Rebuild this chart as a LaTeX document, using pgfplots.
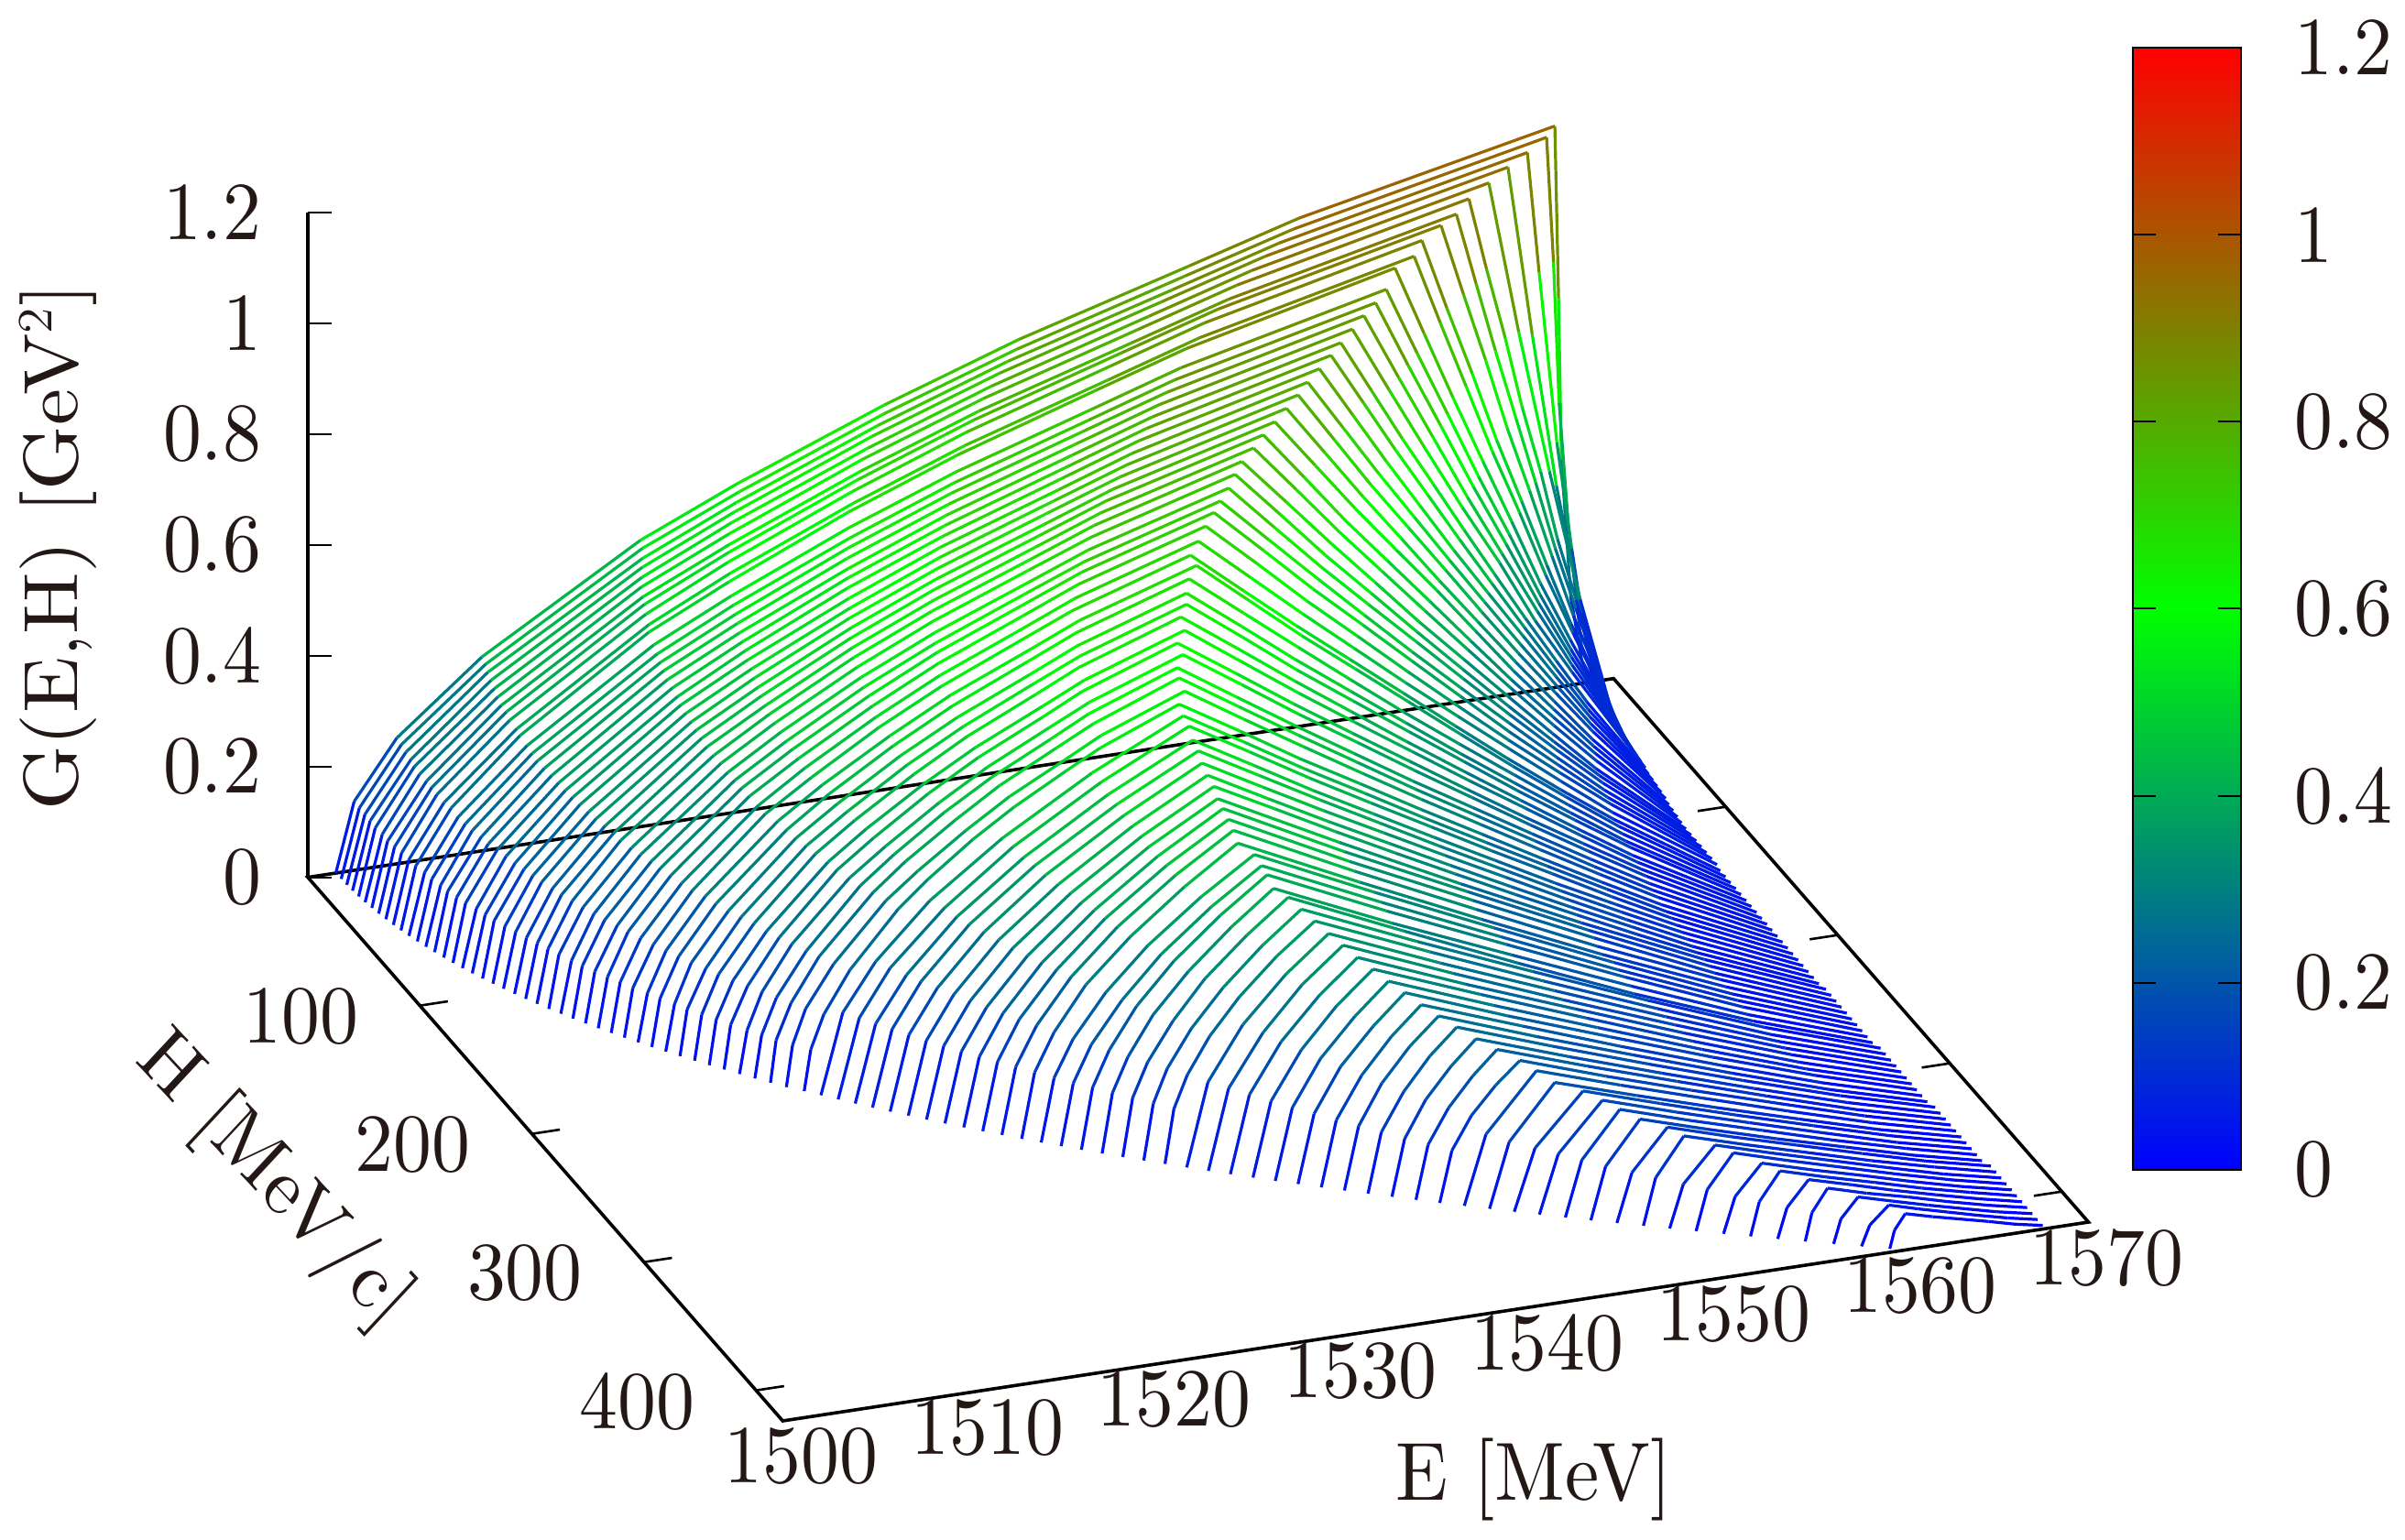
\documentclass[border=0pt]{standalone}
\usepackage{fontspec}
\setmainfont{lmroman10-regular}[Extension=.otf]
\usepackage{pgfplots}
\pgfplotsset{compat=1.18}
\definecolor{tc}{RGB}{35,24,21}
\pgfplotsset{bgr/.style={colormap={bgr}{rgb255(0)=(0,0,255) rgb255(1)=(0,255,0) rgb255(2)=(255,0,0)}},
 every tick label/.append style={xscale=.93}}
\newcommand\Ln[2]{\addplot3[mesh,mesh/rows=1,line width=0.8pt,point meta=z] table[row sep=\\,header=false,x index=0,y expr=#1,z index=1]{#2};}
\begin{document}
\begin{tikzpicture}
\fontsize{22.5}{27}\selectfont
\color{tc}
\path[use as bounding box] (0,0) rectangle (656.25pt,420.25pt);
\begin{axis}[hide axis,bgr,clip=false,
 x={(5.09pt,0.775pt)},y={(0.30575pt,-0.35pt)},z={(0pt,151.25pt)},
 xmin=1500,xmax=1570,ymin=0,ymax=423.8,zmin=0,zmax=1.2,
 point meta min=0,point meta max=1.2,
 at={(84pt,32.5pt)},anchor=south west]
\draw[black,line width=.9pt] (axis cs:1500,0,0)--(axis cs:1570,0,0)--(axis cs:1570,423.8,0)--(axis cs:1500,423.8,0)--cycle;
\pgfplotsinvokeforeach{100,200,300,400}{
 \draw[black,line width=.65pt] (axis cs:1500,#1,0)--(axis cs:1501.5,#1,0);
 \draw[black,line width=.65pt] (axis cs:1570,#1,0)--(axis cs:1568.5,#1,0);
 \node[xscale=.93] at ([xshift=-32.5pt,yshift=-3pt]axis cs:1500,#1,0) {#1};}
\pgfplotsinvokeforeach{1500,1510,1520,1530,1540,1550,1560,1570}{
 \node[xscale=.93] at ([xshift=5pt,yshift=-9.75pt]axis cs:#1,423.8,0) {#1};}
\Ln{0}{1501.5 0\\1502.48 .124\\1504.77 .227\\1509.34 .35\\1517.84 .517\\1523.07 .593\\1530.91 .694\\1538.1 .775\\1547.25 .861\\1553.13 .917\\1566.85 1.013\\1567.05 .7\\1567.2 .41\\1567.7 .16\\1568.3 .04\\1568.9 0\\}
\Ln{4.63}{1501.51 0\\1502.48 .123\\1504.74 .226\\1509.26 .348\\1517.67 .514\\1522.83 .589\\1530.59 .69\\1537.7 .77\\1546.74 .856\\1552.56 .911\\1566.13 1.007\\1566.5 .78\\1566.8 .525\\1567.3 .3\\1568 .08\\1568.85 0\\}
\Ln{9.26}{1501.53 0\\1502.5 .122\\1504.7 .223\\1509.1 .345\\1517.4 .508\\1522.42 .583\\1530 .683\\1536.97 .763\\1545.8 .847\\1551.53 .902\\1564.82 .997\\1565.45 .778\\1566.4 .466\\1567.2 .27\\1568 .09\\1568.8 0\\}
\Ln{13.9}{1501.56 0\\1502.5 .121\\1504.7 .221\\1509 .342\\1517.1 .504\\1522 .578\\1529.4 .677\\1536.25 .756\\1544.9 .84\\1550.49 .894\\1563.5 .988\\1564.8 .68\\1566.1 .4\\1567.45 .163\\1568.75 0\\}
\Ln{18.5}{1501.61 0\\1502.5 .119\\1504.6 .219\\1508.9 .338\\1516.8 .498\\1521.6 .572\\1528.9 .669\\1535.54 .747\\1544 .83\\1549.48 .884\\1562.2 .977\\1563.8 .7\\1565.45 .44\\1567.1 .2\\1568.7 0\\}
\Ln{23.15}{1501.68 0\\1502.6 .118\\1504.6 .216\\1508.8 .334\\1516.5 .493\\1521.21 .565\\1528.3 .662\\1534.82 .739\\1543.1 .821\\1548.42 .874\\1560.85 .966\\1561.8 .834\\1562.8 .705\\1563.7 .576\\1564.7 .454\\1565.6 .328\\1566.6 .213\\1568.5 0\\}
\Ln{27.8}{1501.76 0\\1502.6 .116\\1504.7 .214\\1508.7 .33\\1516.3 .487\\1520.95 .558\\1527.9 .653\\1534.32 .73\\1542.5 .811\\1547.69 .863\\1559.9 .954\\1560.96 .823\\1562 .696\\1563.1 .569\\1564.15 .448\\1565.2 .324\\1566.3 .21\\1568.4 0\\}
\Ln{32.4}{1501.85 0\\1502.7 .116\\1504.7 .213\\1508.7 .329\\1516.1 .485\\1520.64 .556\\1527.5 .651\\1533.74 .727\\1541.7 .808\\1546.84 .86\\1558.8 .95\\1560 .82\\1561.2 .694\\1562.35 .566\\1563.55 .447\\1564.75 .323\\1565.9 .209\\1568.3 0\\}
\Ln{37}{1501.96 0\\1502.8 .115\\1504.7 .211\\1508.6 .325\\1515.9 .479\\1520.29 .55\\1527 .644\\1533.06 .719\\1540.8 .799\\1545.84 .851\\1557.5 .94\\1558.84 .811\\1560.2 .686\\1561.5 .56\\1562.85 .442\\1564.2 .32\\1565.5 .207\\1568.2 0\\}
\Ln{41.7}{1502.08 0\\1502.9 .113\\1504.8 .207\\1508.7 .32\\1515.8 .472\\1520.14 .542\\1526.7 .634\\1532.72 .708\\1540.4 .787\\1545.31 .838\\1556.8 .926\\1558.2 .799\\1559.6 .676\\1561 .552\\1562.45 .435\\1563.85 .315\\1565.3 .204\\1568.1 0\\}
\Ln{46.3}{1502.21 0\\1503 .112\\1504.9 .207\\1508.6 .319\\1515.5 .47\\1519.8 .539\\1526.2 .632\\1532.05 .705\\1539.5 .784\\1544.31 .834\\1555.5 .922\\1557.06 .796\\1558.6 .673\\1560.2 .55\\1561.75 .433\\1563.3 .313\\1564.9 .203\\1568 0\\}
\Ln{50.9}{1502.36 0\\1503.2 .11\\1505 .201\\1508.7 .311\\1515.5 .458\\1519.65 .525\\1525.9 .615\\1531.7 .687\\1539 .763\\1543.75 .813\\1554.75 .898\\1556.4 .775\\1558.05 .656\\1559.7 .535\\1561.35 .422\\1563 .305\\1564.65 .198\\1567.95 0\\}
\Ln{55.6}{1502.53 0\\1503.3 .108\\1505.1 .199\\1508.7 .308\\1515.4 .453\\1519.48 .52\\1525.7 .609\\1531.3 .68\\1538.5 .756\\1543.11 .805\\1553.9 .889\\1555.65 .767\\1557.4 .649\\1559.15 .53\\1560.9 .418\\1562.65 .302\\1564.4 .196\\1567.9 0\\}
\Ln{60.2}{1502.71 0\\1503.5 .107\\1505.2 .197\\1508.7 .305\\1515.3 .449\\1519.31 .515\\1525.3 .603\\1530.87 .674\\1537.9 .749\\1542.44 .797\\1553 .881\\1554.86 .76\\1556.7 .643\\1558.55 .525\\1560.4 .414\\1562.3 .3\\1564.15 .194\\1567.85 0\\}
\Ln{64.8}{1502.9 0\\1503.6 .106\\1505.4 .195\\1508.8 .302\\1515.2 .445\\1519.14 .51\\1525 .597\\1530.45 .667\\1537.3 .741\\1541.77 .789\\1552.1 .872\\1554.06 .753\\1556 .637\\1558 .52\\1560 .41\\1561.9 .296\\1563.9 .192\\1567.8 0\\}
\Ln{69.5}{1503.11 0\\1503.8 .105\\1505.5 .193\\1508.9 .299\\1515.1 .44\\1518.98 .505\\1524.8 .591\\1530.04 .66\\1536.8 .734\\1541.1 .781\\1551.2 .863\\1552.85 .768\\1554.5 .673\\1556.15 .583\\1557.8 .492\\1559.45 .403\\1561.1 .315\\1562.75 .23\\1564.4 .147\\1567.7 0\\}
\Ln{74.1}{1503.33 0\\1504 .104\\1505.7 .192\\1509 .296\\1515.1 .436\\1518.86 .5\\1524.5 .586\\1529.69 .654\\1536.3 .727\\1540.52 .774\\1550.4 .855\\1552.13 .761\\1553.85 .667\\1555.58 .577\\1557.3 .487\\1559.03 .399\\1560.75 .312\\1562.48 .227\\1564.2 .145\\1567.65 0\\}
\Ln{78.7}{1503.56 0\\1504.3 .103\\1505.9 .19\\1509.1 .293\\1515.1 .431\\1518.72 .495\\1524.2 .58\\1529.29 .647\\1535.7 .719\\1539.85 .766\\1549.5 .846\\1551.3 .753\\1553.1 .66\\1554.9 .571\\1556.7 .482\\1558.55 .395\\1560.4 .309\\1562.2 .225\\1564 .144\\1567.6 0\\}
\Ln{83.3}{1503.81 0\\1504.5 .102\\1506.1 .187\\1509.2 .29\\1515 .427\\1518.59 .49\\1524 .573\\1528.89 .64\\1535.2 .711\\1539.19 .757\\1548.6 .837\\1550.5 .745\\1552.4 .653\\1554.3 .565\\1556.2 .477\\1558.1 .391\\1560 .306\\1561.9 .223\\1563.8 .142\\1567.55 0\\}
\Ln{88}{1504.08 0\\1504.7 .101\\1506.3 .186\\1509.3 .287\\1515 .423\\1518.51 .485\\1523.8 .568\\1528.56 .634\\1534.7 .705\\1538.62 .75\\1547.8 .829\\1549.75 .738\\1551.7 .647\\1553.7 .56\\1555.7 .473\\1557.65 .387\\1559.6 .303\\1561.6 .221\\1563.6 .141\\1567.5 0\\}
\Ln{92.6}{1504.36 0\\1505 .1\\1506.5 .184\\1509.5 .284\\1515 .418\\1518.4 .48\\1523.5 .562\\1528.18 .627\\1534.1 .697\\1537.97 .742\\1546.9 .82\\1548.95 .73\\1551 .64\\1553.05 .554\\1555.1 .467\\1557.15 .383\\1559.2 .299\\1561.25 .218\\1563.3 .139\\1567.4 0\\}
\Ln{97.2}{1504.65 0\\1505.3 .099\\1506.7 .182\\1509.6 .281\\1515 .414\\1518.3 .474\\1523.3 .556\\1527.81 .62\\1533.6 .689\\1537.32 .734\\1546 .811\\1548.15 .722\\1550.3 .633\\1552.5 .547\\1554.7 .462\\1556.75 .379\\1558.8 .296\\1560.95 .216\\1563.1 .138\\1567.35 0\\}
\Ln{101.9}{1504.96 0\\1505.6 .098\\1507 .18\\1509.8 .278\\1515 .41\\1518.21 .47\\1523 .55\\1527.44 .614\\1533.1 .683\\1536.67 .727\\1545.1 .803\\1547.3 .715\\1549.5 .626\\1551.75 .542\\1554 .458\\1556.2 .375\\1558.4 .293\\1560.65 .214\\1562.9 .137\\1567.3 0\\}
\Ln{106.5}{1505.28 0\\1505.9 .097\\1507.2 .178\\1510 .275\\1515 .405\\1518.16 .464\\1522.8 .544\\1527.13 .607\\1532.6 .675\\1536.11 .719\\1544.3 .794\\1546.6 .707\\1548.9 .619\\1551.2 .536\\1553.5 .453\\1555.8 .371\\1558.1 .29\\1560.4 .211\\1562.7 .135\\1567.25 0\\}
\Ln{111.1}{1505.61 0\\1506.2 .096\\1507.5 .176\\1510.1 .272\\1515.1 .4\\1518.08 .459\\1522.6 .538\\1526.77 .6\\1532.1 .667\\1535.46 .71\\1543.4 .785\\1545.8 .699\\1548.2 .612\\1550.55 .53\\1552.9 .447\\1555.3 .367\\1557.7 .287\\1560.05 .209\\1562.4 .133\\1567.2 0\\}
\Ln{115.8}{1505.96 0\\1506.5 .095\\1507.8 .174\\1510.4 .268\\1515.2 .396\\1518.1 .454\\1522.5 .532\\1526.56 .594\\1531.7 .66\\1535.02 .702\\1542.75 .776\\1545.18 .691\\1547.6 .605\\1550.05 .524\\1552.5 .442\\1554.95 .362\\1557.4 .283\\1559.85 .206\\1562.3 .132\\1567.2 0\\}
\Ln{120.4}{1506.33 0\\1506.9 .093\\1508.1 .171\\1510.6 .265\\1515.3 .39\\1518.14 .448\\1522.4 .524\\1526.38 .585\\1531.4 .65\\1534.61 .692\\1542.13 .765\\1544.6 .681\\1547.1 .597\\1549.65 .516\\1552.2 .436\\1554.7 .357\\1557.2 .279\\1559.7 .203\\1562.2 .13\\1567.2 0\\}
\Ln{125}{1506.7 0\\1507.2 .092\\1508.4 .169\\1510.9 .262\\1515.4 .386\\1518.15 .442\\1522.3 .518\\1526.14 .578\\1531 .643\\1534.12 .684\\1541.41 .756\\1544 .673\\1546.6 .59\\1549.15 .51\\1551.7 .431\\1554.3 .353\\1556.9 .276\\1559.45 .201\\1562 .129\\1567.2 0\\}
\Ln{129.6}{1507.1 0\\1507.6 .091\\1508.8 .168\\1511.1 .259\\1515.5 .382\\1518.22 .438\\1522.3 .513\\1525.97 .573\\1530.7 .637\\1533.72 .678\\1540.79 .749\\1543.45 .667\\1546.1 .584\\1548.75 .506\\1551.4 .427\\1554 .35\\1556.6 .273\\1559.25 .199\\1561.9 .127\\1567.2 0\\}
\Ln{134.3}{1507.5 0\\1508 .09\\1509.1 .166\\1511.4 .256\\1515.6 .377\\1518.25 .432\\1522.2 .506\\1525.74 .565\\1530.3 .628\\1533.23 .669\\1540.07 .739\\1542.8 .658\\1545.5 .576\\1548.2 .499\\1550.9 .421\\1553.6 .345\\1556.3 .27\\1559.05 .197\\1561.8 .126\\1567.2 0\\}
\Ln{138.9}{1507.92 0\\1508.4 .089\\1509.5 .163\\1511.7 .251\\1515.8 .37\\1518.31 .425\\1522.1 .497\\1525.55 .555\\1530 .617\\1532.79 .657\\1539.4 .726\\1542.2 .646\\1545 .566\\1547.75 .49\\1550.5 .414\\1553.3 .339\\1556.1 .265\\1558.85 .193\\1561.6 .123\\1567.2 0\\}
\Ln{143.5}{1508.35 0\\1508.8 .087\\1509.9 .16\\1512 .247\\1515.9 .365\\1518.37 .418\\1522 .49\\1525.35 .547\\1529.6 .608\\1532.33 .647\\1538.7 .715\\1541.55 .636\\1544.4 .558\\1547.25 .483\\1550.1 .408\\1552.9 .334\\1555.7 .261\\1558.55 .19\\1561.4 .122\\1567.1 0\\}
\Ln{148.2}{1508.8 0\\1509.3 .086\\1510.3 .158\\1512.4 .245\\1516.3 .361\\1518.68 .414\\1522.3 .484\\1525.57 .541\\1529.8 .601\\1532.45 .64\\1538.74 .707\\1541.57 .629\\1544.4 .551\\1547.25 .477\\1550.1 .403\\1552.9 .33\\1555.7 .258\\1558.55 .188\\1561.4 .12\\1567.1 0\\}
\Ln{152.8}{1509.26 0\\1509.7 .085\\1510.7 .156\\1512.7 .241\\1516.5 .355\\1518.77 .408\\1522.2 .477\\1525.39 .533\\1529.4 .592\\1532.02 .631\\1538.07 .697\\1541 .62\\1543.9 .544\\1546.75 .47\\1549.6 .397\\1552.55 .325\\1555.5 .254\\1558.4 .185\\1561.3 .118\\1567.1 0\\}
\Ln{157.4}{1509.73 0\\1510.2 .083\\1511.1 .153\\1513.1 .237\\1516.7 .349\\1518.94 .4\\1522.3 .469\\1525.37 .523\\1529.3 .581\\1531.79 .619\\1537.65 .684\\1540.6 .609\\1543.5 .534\\1546.45 .462\\1549.4 .39\\1552.35 .319\\1555.3 .25\\1558.25 .182\\1561.2 .116\\1567.1 0\\}
\Ln{162}{1510.22 0\\1510.6 .082\\1511.6 .151\\1513.5 .234\\1517 .345\\1519.18 .395\\1522.4 .463\\1525.42 .517\\1529.2 .575\\1531.67 .612\\1537.37 .676\\1540.35 .602\\1543.3 .527\\1546.3 .456\\1549.3 .385\\1552.25 .316\\1555.2 .247\\1558.2 .18\\1561.2 .115\\1567.1 0\\}
\Ln{166.7}{1510.72 0\\1511.1 .081\\1512 .149\\1513.9 .231\\1517.2 .34\\1519.32 .39\\1522.5 .457\\1525.32 .51\\1529 .567\\1531.32 .604\\1536.79 .667\\1539.85 .594\\1542.9 .52\\1545.9 .45\\1548.9 .38\\1551.95 .311\\1555 .243\\1558 .177\\1561 .113\\1567.1 0\\}
\Ln{171.3}{1511.23 0\\1511.6 .08\\1512.5 .146\\1514.3 .226\\1517.6 .334\\1519.64 .383\\1522.7 .448\\1525.5 .5\\1529.1 .556\\1531.36 .592\\1536.71 .654\\1539.75 .582\\1542.8 .51\\1545.85 .441\\1548.9 .373\\1551.95 .305\\1555 .239\\1558 .174\\1561 .111\\1567.1 0\\}
\Ln{175.9}{1511.75 0\\1512.1 .079\\1513 .144\\1514.7 .223\\1517.8 .329\\1519.77 .377\\1522.7 .442\\1525.36 .493\\1528.8 .548\\1530.95 .584\\1536.05 .645\\1539.2 .574\\1542.3 .503\\1545.4 .435\\1548.5 .368\\1551.6 .301\\1554.7 .235\\1557.8 .172\\1560.9 .11\\1567.1 0\\}
\Ln{180.6}{1512.29 0\\1512.7 .077\\1513.5 .142\\1515.1 .22\\1518.2 .324\\1520.13 .371\\1523 .435\\1525.6 .486\\1528.9 .54\\1531.07 .575\\1536.06 .635\\1539.2 .565\\1542.3 .495\\1545.4 .429\\1548.5 .362\\1551.6 .297\\1554.7 .232\\1557.8 .169\\1560.9 .108\\1567.1 0\\}
\Ln{185.2}{1512.84 0\\1513.2 .076\\1514 .14\\1515.6 .216\\1518.5 .319\\1520.31 .366\\1523 .428\\1525.52 .478\\1528.7 .531\\1530.73 .566\\1535.49 .625\\1538.65 .556\\1541.8 .488\\1544.95 .422\\1548.1 .356\\1551.3 .292\\1554.5 .228\\1557.65 .166\\1560.8 .106\\1567.1 0\\}
\Ln{189.8}{1513.4 0\\1513.7 .075\\1514.5 .138\\1516 .214\\1518.9 .315\\1520.63 .362\\1523.3 .423\\1525.67 .473\\1528.7 .525\\1530.71 .559\\1535.31 .618\\1538.5 .55\\1541.7 .482\\1544.85 .417\\1548 .352\\1551.2 .289\\1554.4 .226\\1557.55 .164\\1560.7 .105\\1567.1 0\\}
\Ln{194.5}{1513.97 0\\1514.3 .074\\1515 .136\\1516.5 .209\\1519.3 .309\\1521.02 .354\\1523.6 .414\\1525.93 .463\\1528.9 .514\\1530.84 .548\\1535.32 .605\\1538.5 .538\\1541.7 .472\\1544.85 .408\\1548 .345\\1551.2 .283\\1554.4 .221\\1557.55 .161\\1560.7 .103\\1567.1 0\\}
\Ln{199.1}{1514.65 0\\1515 .073\\1515.7 .133\\1517.1 .206\\1519.7 .303\\1521.28 .348\\1523.7 .408\\1525.91 .455\\1528.7 .506\\1530.53 .538\\1534.75 .595\\1538 .53\\1541.2 .464\\1544.45 .402\\1547.7 .339\\1550.95 .278\\1554.2 .217\\1557.4 .158\\1560.6 .101\\1567.1 0\\}
\Ln{203.7}{1515.27 0\\1516.44 .143\\1518.2 .226\\1521.1 .321\\1525 .414\\1529.8 .507\\1534.7 .585\\1537.95 .521\\1541.2 .456\\1544.45 .395\\1547.7 .333\\1550.95 .273\\1554.2 .214\\1557.4 .156\\1560.6 .099\\1567.1 0\\}
\Ln{208.4}{1515.91 0\\1517.04 .141\\1518.7 .223\\1521.6 .316\\1525.3 .408\\1530 .5\\1534.73 .577\\1537.97 .514\\1541.2 .45\\1544.45 .389\\1547.7 .329\\1550.95 .269\\1554.2 .211\\1557.4 .153\\1560.6 .098\\1567.1 0\\}
\Ln{213}{1516.55 0\\1517.64 .138\\1519.3 .218\\1522 .309\\1525.6 .398\\1530.1 .488\\1534.65 .563\\1537.9 .501\\1541.1 .439\\1544.35 .38\\1547.6 .321\\1550.85 .263\\1554.1 .205\\1557.35 .15\\1560.6 .096\\1567.1 0\\}
\Ln{217.6}{1517.2 0\\1518.25 .136\\1519.8 .214\\1522.4 .304\\1525.9 .392\\1530.3 .48\\1534.67 .554\\1537.93 .493\\1541.2 .432\\1544.4 .374\\1547.6 .316\\1550.85 .259\\1554.1 .202\\1557.35 .147\\1560.6 .094\\1567.1 0\\}
\Ln{222.2}{1517.87 0\\1518.87 .133\\1520.4 .21\\1522.9 .298\\1526.2 .384\\1530.4 .47\\1534.59 .543\\1537.85 .483\\1541.1 .424\\1544.35 .367\\1547.6 .31\\1550.85 .254\\1554.1 .198\\1557.35 .144\\1560.6 .092\\1567.1 0\\}
\Ln{226.9}{1518.56 0\\1519.52 .13\\1521 .206\\1523.4 .292\\1526.6 .376\\1530.6 .461\\1534.6 .532\\1537.85 .473\\1541.1 .415\\1544.35 .359\\1547.6 .303\\1550.85 .248\\1554.1 .194\\1557.35 .142\\1560.6 .09\\1567.1 0\\}
\Ln{231.5}{1519.26 0\\1520.18 .128\\1521.6 .202\\1523.9 .286\\1527 .369\\1530.8 .452\\1534.67 .522\\1537.93 .465\\1541.2 .407\\1544.4 .352\\1547.6 .298\\1550.85 .244\\1554.1 .191\\1557.35 .139\\1560.6 .089\\1567.1 0\\}
\Ln{236.1}{1519.97 0\\1520.85 .125\\1522.2 .198\\1524.4 .28\\1527.3 .361\\1530.9 .443\\1534.59 .511\\1541.1 .399\\1547.6 .291\\1554.1 .187\\1560.7 .087\\1567.2 0\\}
\Ln{240.8}{1520.7 0\\1521.53 .123\\1522.8 .195\\1524.9 .276\\1527.7 .356\\1531.1 .436\\1534.6 .504\\1541.1 .393\\1547.7 .287\\1554.2 .184\\1560.7 .086\\1567.2 0\\}
\Ln{245.4}{1521.44 0\\1522.23 .121\\1523.4 .192\\1525.4 .271\\1528 .35\\1531.3 .429\\1534.62 .495\\1541.1 .386\\1547.7 .282\\1554.2 .181\\1560.7 .084\\1567.2 0\\}
\Ln{250}{1522.19 0\\1522.93 .119\\1524.05 .188\\1525.9 .266\\1528.4 .344\\1531.5 .421\\1534.6 .486\\1541.1 .379\\1547.6 .277\\1554.1 .177\\1560.7 .083\\1567.2 0\\}
\Ln{254.7}{1522.97 0\\1523.66 .116\\1524.7 .183\\1526.4 .26\\1528.8 .335\\1531.7 .41\\1534.55 .474\\1541.1 .37\\1547.6 .27\\1554.1 .173\\1560.7 .081\\1567.2 0\\}
\Ln{259.3}{1523.74 0\\1524.43 .113\\1525.45 .178\\1527.2 .253\\1529.45 .326\\1532.3 .399\\1535.16 .461\\1541.6 .36\\1548 .263\\1554.4 .168\\1560.8 .078\\1567.2 0\\}
\Ln{263.9}{1524.53 0\\1525.18 .11\\1526.15 .175\\1527.8 .247\\1529.9 .319\\1532.6 .391\\1535.28 .451\\1541.7 .352\\1548.1 .257\\1554.4 .165\\1560.8 .077\\1567.2 0\\}
\Ln{268.5}{1525.34 0\\1525.94 .109\\1526.83 .172\\1528.3 .244\\1530.3 .315\\1532.8 .385\\1535.3 .445\\1541.7 .347\\1548.1 .254\\1554.5 .162\\1560.8 .076\\1567.2 0\\}
\Ln{273.2}{1526.17 0\\1526.72 .106\\1527.55 .167\\1528.9 .236\\1530.8 .305\\1533.1 .373\\1535.36 .431\\1541.7 .336\\1548.1 .246\\1554.5 .157\\1560.8 .073\\1567.2 0\\}
\Ln{277.8}{1527 0\\1527.53 .104\\1528.33 .164\\1529.7 .232\\1531.4 .299\\1533.65 .366\\1535.87 .423\\1542.1 .33\\1548.2 .241\\1554.4 .154\\1560.8 .072\\1567.2 0\\}
\Ln{282.4}{1527.85 0\\1528.36 .1\\1529.1 .159\\1530.4 .225\\1532.1 .29\\1534.2 .355\\1536.3 .41\\1542.5 .32\\1548.7 .234\\1554.9 .15\\1561.1 .07\\1567.35 0\\}
\Ln{287}{1528.71 0\\1529.19 .097\\1529.9 .154\\1531.1 .218\\1532.7 .281\\1534.7 .344\\1536.75 .397\\1542.9 .31\\1549 .226\\1555.1 .145\\1561.2 .067\\1567.35 0\\}
\Ln{291.7}{1529.59 0\\1530.73 .148\\1532.6 .242\\1534.9 .321\\1537.2 .383\\1543.2 .299\\1549.3 .218\\1555.3 .14\\1561.3 .065\\1567.35 0\\}
\Ln{296.3}{1530.48 0\\1531.56 .143\\1533.4 .234\\1535.5 .31\\1537.7 .37\\1543.6 .289\\1549.5 .211\\1555.5 .135\\1561.4 .063\\1567.35 0\\}
\Ln{300.9}{1531.38 0\\1532.4 .138\\1534.1 .225\\1536.15 .298\\1538.2 .356\\1544 .278\\1549.9 .203\\1555.7 .13\\1561.5 .061\\1567.35 0\\}
\Ln{305.6}{1532.31 0\\1533.28 .133\\1534.9 .217\\1536.8 .287\\1538.75 .343\\1544.5 .268\\1550.2 .196\\1555.9 .125\\1561.6 .058\\1567.35 0\\}
\Ln{310.2}{1533.23 0\\1534.14 .127\\1535.65 .208\\1537.5 .275\\1539.3 .329\\1544.9 .257\\1550.5 .188\\1556.1 .12\\1561.7 .056\\1567.35 0\\}
\Ln{314.8}{1534.17 0\\1535.03 .122\\1536.45 .2\\1538.2 .264\\1539.9 .316\\1545.4 .246\\1550.9 .18\\1556.4 .115\\1561.9 .054\\1567.35 0\\}
\Ln{319.5}{1535.14 0\\1535.94 .117\\1537.3 .191\\1538.9 .253\\1540.5 .302\\1545.9 .236\\1551.2 .172\\1556.6 .11\\1562 .051\\1567.35 0\\}
\Ln{324.1}{1536.1 0\\1536.86 .112\\1538.1 .183\\1539.6 .242\\1541.15 .289\\1546.4 .225\\1551.6 .165\\1556.9 .105\\1562.1 .049\\1567.35 0\\}
\Ln{328.7}{1537.09 0\\1537.8 .107\\1539 .174\\1540.4 .231\\1541.85 .276\\1547 .215\\1552.1 .157\\1557.2 .101\\1562.4 .047\\1567.5 0\\}
\Ln{333.4}{1538.09 0\\1538.77 .101\\1539.9 .166\\1541.25 .219\\1542.6 .262\\1547.6 .204\\1552.55 .149\\1557.5 .096\\1562.5 .045\\1567.5 0\\}
\Ln{338}{1539.1 0\\1539.75 .096\\1540.85 .157\\1542.15 .208\\1543.45 .249\\1548.3 .194\\1553.1 .142\\1557.9 .091\\1562.7 .042\\1567.5 0\\}
\Ln{342.6}{1540.1 0\\1540.75 .091\\1541.8 .149\\1543.1 .197\\1544.4 .235\\1549 .183\\1553.6 .134\\1558.3 .086\\1562.9 .04\\1567.5 0\\}
\Ln{347.2}{1541.14 0\\1542.3 .123\\1545.01 .224\\1549.5 .175\\1554 .128\\1558.5 .082\\1563 .038\\1567.5 0\\}
\Ln{351.9}{1542.21 0\\1543.26 .115\\1545.71 .21\\1550.1 .164\\1554.4 .12\\1558.8 .077\\1563.1 .036\\1567.5 0\\}
\Ln{356.5}{1543.26 0\\1544.37 .109\\1546.95 .199\\1551.1 .155\\1555.2 .113\\1559.3 .073\\1563.4 .034\\1567.5 0\\}
\Ln{361.1}{1544.33 0\\1545.34 .104\\1547.71 .189\\1551.7 .147\\1555.6 .108\\1559.6 .069\\1563.5 .032\\1567.5 0\\}
\Ln{365.8}{1545.44 0\\1546.32 .099\\1548.36 .18\\1552.2 .14\\1556 .103\\1559.8 .066\\1563.7 .031\\1567.5 0\\}
\Ln{370.4}{1546.53 0\\1547.32 .093\\1549.17 .169\\1552.8 .132\\1556.5 .096\\1560.2 .062\\1563.8 .029\\1567.5 0\\}
\Ln{375}{1547.65 0\\1548.46 .087\\1550.36 .159\\1553.8 .124\\1557.3 .091\\1560.8 .058\\1564.2 .027\\1567.7 0\\}
\Ln{379.7}{1548.79 0\\1549.44 .083\\1550.96 .151\\1554.3 .118\\1557.7 .086\\1561 .055\\1564.4 .026\\1567.7 0\\}
\Ln{384.3}{1549.92 0\\1550.65 .076\\1552.36 .138\\1555.4 .108\\1558.5 .079\\1561.6 .05\\1564.6 .023\\1567.7 0\\}
\Ln{388.9}{1551.06 0\\1551.66 .072\\1553.06 .131\\1556 .102\\1558.9 .075\\1561.8 .048\\1564.8 .022\\1567.7 0\\}
\Ln{393.6}{1552.25 0\\1552.87 .064\\1554.3 .117\\1557 .091\\1559.7 .067\\1562.3 .043\\1565 .02\\1567.7 0\\}
\Ln{398.2}{1553.42 0\\1553.89 .06\\1555 .11\\1557.5 .086\\1560.1 .063\\1562.6 .04\\1565.2 .019\\1567.7 0\\}
\Ln{402.8}{1554.6 0\\1555.1 .054\\1556.26 .0985\\1558.6 .077\\1560.8 .056\\1563.1 .036\\1565.4 .017\\1567.7 0\\}
\Ln{407.4}{1555.8 0\\1556.16 .05\\1557 .09\\1559.1 .07\\1561.3 .052\\1563.4 .033\\1565.6 .015\\1567.7 0\\}
\Ln{412.1}{1557.04 0\\1557.43 .043\\1558.35 .078\\1560.2 .061\\1562.1 .044\\1564 .028\\1565.8 .013\\1567.7 0\\}
\Ln{416.7}{1558.26 0\\1558.7 .036\\1559.72 .067\\1561.3 .052\\1562.9 .038\\1564.5 .024\\1566.1 .011\\1567.7 0\\}
\Ln{421.3}{1559.5 0\\1559.75 .032\\1560.33 .059\\1561.8 .046\\1563.3 .034\\1564.8 .022\\1566.2 .01\\1567.7 0\\}
\end{axis}
\begin{axis}[scale only axis,at={(84pt,180.75pt)},anchor=south west,width=10pt,height=181.5pt,
 axis x line=none,axis y line*=left,ymin=0,ymax=1.2,xmin=0,xmax=1,
 ytick={0,.2,.4,.6,.8,1,1.2},yticklabels={0,0.2,0.4,0.6,0.8,1,1.2},tick align=inside,major tick length=6.5pt,
 yticklabel style={xshift=-6pt},
 tick style={black,line width=.65pt},axis line style={black,line width=.9pt,-},ylabel={}]
\end{axis}
\begin{axis}[scale only axis,at={(582pt,101pt)},anchor=south west,width=29.5pt,height=306.25pt,bgr,
 xmin=0,xmax=1,ymin=0,ymax=1.2,point meta min=0,point meta max=1.2,xtick=\empty,
 ytick={0,.2,.4,.6,.8,1,1.2},yticklabels={0,0.2,0.4,0.6,0.8,1,1.2},tick align=inside,yticklabel pos=right,major tick length=6.25pt,
 yticklabel style={anchor=west,xshift=8pt},
 tick style={black,line width=.5pt},axis line style={black,line width=.67pt},axis on top]
\addplot[surf,shader=interp,point meta=y,mesh/cols=2] coordinates {(0,0)(1,0)(0,.6)(1,.6)(0,1.2)(1,1.2)};
\end{axis}
\node[xscale=.93,rotate=90] at (16pt,271pt) {G(E,H) [GeV$^2$]};
\node[xscale=.93,rotate=-45] at (74.5pt,98pt) {H [MeV/c]};
\node[xscale=.93] at (418.5pt,16.5pt) {E [MeV]};
\end{tikzpicture}
\end{document}
